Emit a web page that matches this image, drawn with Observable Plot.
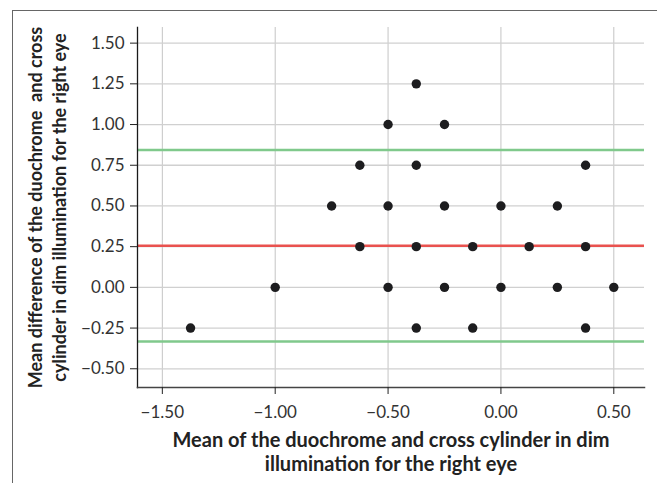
<!DOCTYPE html>
<html>
<head>
<meta charset="utf-8">
<script src="https://cdn.jsdelivr.net/npm/d3@7"></script>
<script src="https://cdn.jsdelivr.net/npm/@observablehq/plot@0.6"></script>
<style>
  html, body { margin: 0; padding: 0; background: #fff; }
  #wrap { position: relative; width: 657px; height: 483px; overflow: hidden; }
  #border { position: absolute; left: 12px; top: 10px; width: 700px; height: 600px;
            border-top: 1.5px solid #666; border-left: 1.5px solid #666; }
  #chart { position: absolute; left: 0; top: 0; }
</style>
</head>
<body>
<div id="wrap"><div id="border"></div><div id="chart"></div></div>
<script>
// Bland–Altman points: mean (x) and difference (y)
const meanValues = [-1.375, -1.00, -0.75, -0.625, -0.625, -0.50, -0.50, -0.50,
  -0.375, -0.375, -0.375, -0.375, -0.25, -0.25, -0.25, -0.125, -0.125,
  0.00, 0.00, 0.125, 0.25, 0.25, 0.375, 0.375, 0.375, 0.50];
const diffValues = [-0.25, 0.00, 0.50, 0.75, 0.25, 1.00, 0.50, 0.00,
  1.25, 0.75, 0.25, -0.25, 1.00, 0.50, 0.00, 0.25, -0.25,
  0.50, 0.00, 0.25, 0.50, 0.00, 0.75, 0.25, -0.25, 0.00];
const meanDifference = [0.255];
const limitsOfAgreement = [0.843, -0.332];
const xTicks = [-1.50, -1.00, -0.50, 0.00, 0.50];
const yTicks = [-0.50, -0.25, 0.00, 0.25, 0.50, 0.75, 1.00, 1.25, 1.50];
const xTitle = "Mean of the duochrome and cross cylinder in dim\nillumination for the right eye";
const yTitle = "Mean difference of the duochrome  and cross\ncylinder in dim illumination for the right eye";

const points = meanValues.map((m, i) => ({mean: m, diff: diffValues[i]}));
const fmt = d3.format(".2f");
const font = "Lato, 'Open Sans', sans-serif";

const chart = Plot.plot({
  width: 657,
  height: 483,
  marginLeft: 137,
  marginTop: 27,
  marginRight: 13,
  marginBottom: 96,
  style: {fontFamily: font, fontSize: "17px", color: "#333", background: "transparent", overflow: "visible"},
  x: {domain: [-1.61, 0.636], label: null},
  y: {domain: [-0.615, 1.596], label: null},
  marks: [
    Plot.gridX(xTicks, {stroke: "#c4c4c4", strokeOpacity: 1, strokeWidth: 1}),
    Plot.gridY(yTicks, {stroke: "#d0d0d0", strokeOpacity: 1, strokeWidth: 1.3}),
    Plot.ruleY(limitsOfAgreement, {stroke: "#80c98c", strokeWidth: 2.5}),
    Plot.ruleY(meanDifference, {stroke: "#e9524f", strokeWidth: 2.5}),
    Plot.dot(points, {x: "mean", y: "diff", r: 4.7, fill: "#1d1d1f", stroke: null}),
    Plot.frame({anchor: "left", stroke: "#1a1a1a", strokeWidth: 1.3}),
    Plot.frame({anchor: "bottom", stroke: "#444", strokeWidth: 1.5}),
    Plot.axisX(xTicks, {tickSize: 7, tickPadding: 11, tickFormat: fmt, stroke: "#222", fontSize: 17, fill: "#333"}),
    Plot.axisY(yTicks, {tickSize: 7, tickPadding: 6, tickFormat: fmt, stroke: "#222", fontSize: 17, fill: "#333"}),
    Plot.text([xTitle], {frameAnchor: "bottom", dy: 42, lineAnchor: "top", textAnchor: "middle",
      fontWeight: "bold", fontSize: 20, lineHeight: 1.22, fill: "#222"}),
    Plot.text([yTitle], {frameAnchor: "left", dx: -91, rotate: -90, lineAnchor: "middle", textAnchor: "middle",
      fontWeight: "bold", fontSize: 18, lineHeight: 1.3, fill: "#222"})
  ]
});
document.getElementById("chart").appendChild(chart);
</script>
</body>
</html>
